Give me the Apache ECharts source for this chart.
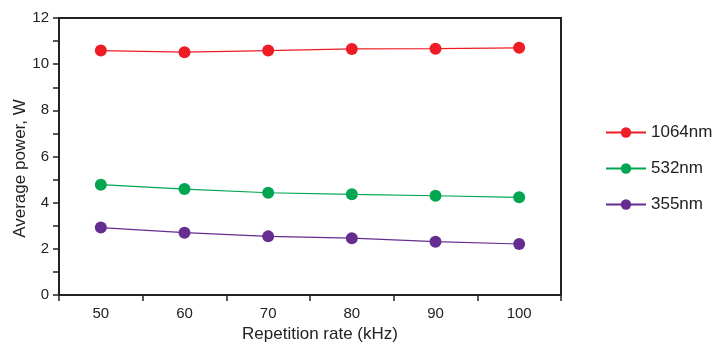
<!DOCTYPE html>
<html><head><meta charset="utf-8">
<script src="https://cdn.jsdelivr.net/npm/echarts@6/dist/echarts.min.js"></script>
<style>html,body{margin:0;padding:0;background:#fff}#c{width:715px;height:347px}</style>
</head><body><div id="c"></div>
<script>
const categories = ['50','60','70','80','90','100'];
const s1064 = [10.59, 10.52, 10.59, 10.66, 10.67, 10.71];
const s532 = [4.78, 4.59, 4.43, 4.36, 4.30, 4.23];
const s355 = [2.92, 2.70, 2.54, 2.46, 2.31, 2.21];
const seriesNames = ['1064nm','532nm','355nm'];
const colors = ['#ee1c25','#00a651','#662d91'];
const font = 'Liberation Sans, Arial, sans-serif';
const chart = echarts.init(document.getElementById('c'));
const mk = (name, data, color) => ({
  name, type:'line', data, symbol:'circle', symbolSize:12,
  itemStyle:{color}, lineStyle:{color, width:1.2}, emphasis:{disabled:true}
});
chart.setOption({
  animation:false,
  backgroundColor:'#fff',
  grid:{left:59, right:154, top:18, bottom:52, show:true, borderColor:'#222', borderWidth:2,
        backgroundColor:'transparent', containLabel:false, outerBoundsMode:'none'},
  legend:{
    orient:'vertical', left:605, top:124, padding:0, itemGap:19, itemWidth:40, itemHeight:13,
    textStyle:{fontFamily:font, fontSize:17, color:'#222'},
    data:seriesNames
  },
  xAxis:{
    type:'category', data:categories, boundaryGap:true,
    axisLine:{lineStyle:{color:'#222', width:2}},
    axisTick:{show:true, inside:false, length:6, lineStyle:{color:'#222', width:1.5}},
    axisLabel:{fontFamily:font, fontSize:15, color:'#222', margin:11},
    name:'Repetition rate (kHz)', nameLocation:'middle', nameGap:31, nameMoveOverlap:false,
    nameTextStyle:{fontFamily:font, fontSize:17, color:'#222', padding:[0,0,0,20]},
    splitLine:{show:false}
  },
  yAxis:{
    type:'value', min:0, max:12, interval:2,
    axisLine:{show:true, lineStyle:{color:'#222', width:2}},
    axisTick:{show:true, inside:false, length:6, lineStyle:{color:'#222', width:1.5}},
    minorTick:{show:true, splitNumber:2, length:6, lineStyle:{color:'#222', width:1.5}},
    axisLabel:{fontFamily:font, fontSize:15, color:'#222', margin:10},
    name:'Average power, W', nameLocation:'middle', nameGap:30, nameRotate:90, nameMoveOverlap:false,
    nameTextStyle:{fontFamily:font, fontSize:17, color:'#222', padding:[0,24,0,0]},
    splitLine:{show:false}
  },
  series:[
    mk(seriesNames[0], s1064, colors[0]),
    mk(seriesNames[1], s532, colors[1]),
    mk(seriesNames[2], s355, colors[2])
  ]
});
</script></body></html>
